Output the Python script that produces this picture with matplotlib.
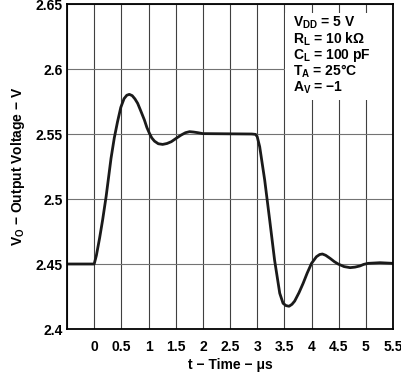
import matplotlib
matplotlib.use('Agg')
import matplotlib.pyplot as plt
from matplotlib.patches import Rectangle

plt.rcParams['font.family'] = ['Liberation Sans', 'DejaVu Sans']
plt.rcParams['font.weight'] = 'bold'
plt.rcParams['mathtext.fontset'] = 'custom'
plt.rcParams['mathtext.rm'] = 'Liberation Sans:bold'
plt.rcParams['mathtext.bf'] = 'Liberation Sans:bold'
plt.rcParams['mathtext.it'] = 'Liberation Sans:bold'
plt.rcParams['mathtext.default'] = 'bf'

# waveform (time in us, volts)
time_us = [-0.5, 0.0, 0.04, 0.10, 0.155, 0.22, 0.31, 0.37, 0.43, 0.49,
           0.55, 0.60, 0.647, 0.70, 0.75, 0.80, 0.86, 0.924, 0.97, 1.017,
           1.06, 1.11, 1.18, 1.26, 1.34, 1.42, 1.51, 1.60, 1.68, 1.755,
           1.83, 1.91, 2.0, 2.9, 2.97, 3.0, 3.046, 3.138, 3.23, 3.32,
           3.415, 3.476, 3.53, 3.587, 3.64, 3.69, 3.77, 3.845, 3.92, 4.0,
           4.09, 4.15, 4.20, 4.26, 4.34, 4.42, 4.49, 4.60, 4.71, 4.80,
           4.89, 4.96, 5.04, 5.26, 5.5]
vout = [2.45, 2.45, 2.4565, 2.470, 2.4838, 2.502, 2.5313, 2.547, 2.5595, 2.5705,
        2.5772, 2.5798, 2.5805, 2.5795, 2.577, 2.5736, 2.5675, 2.5608, 2.555, 2.5505,
        2.547, 2.5445, 2.5425, 2.542, 2.5427, 2.5441, 2.5467, 2.5492, 2.551, 2.5518,
        2.5515, 2.551, 2.5503, 2.55, 2.5497, 2.548, 2.5402, 2.5146, 2.4838, 2.453,
        2.4275, 2.4198, 2.418, 2.4175, 2.419, 2.4215, 2.428, 2.4351, 2.443, 2.4505,
        2.4556, 2.4573, 2.4577, 2.4567, 2.4544, 2.4518, 2.45, 2.448, 2.4472, 2.4476,
        2.4485, 2.4497, 2.4505, 2.451, 2.4505]

xticks = [0, 0.5, 1, 1.5, 2, 2.5, 3, 3.5, 4, 4.5, 5, 5.5]
xtick_labels = ['0', '0.5', '1', '1.5', '2', '2.5', '3', '3.5', '4', '4.5', '5', '5.5']
yticks = [2.4, 2.45, 2.5, 2.55, 2.6, 2.65]
ytick_labels = ['2.4', '2.45', '2.5', '2.55', '2.6', '2.65']

conditions = [r'V$_{DD}$ = 5 V',
              r'R$_{L}$ = 10 k$\Omega$',
              r'C$_{L}$ = 100 pF',
              r'T$_{A}$ = 25°C',
              r'A$_{V}$ = −1']

fig = plt.figure(figsize=(4.02, 3.74), dpi=100)
ax = fig.add_axes([0.1667, 0.1203, 0.811, 0.869])

# grid
for xv in [-0.5] + xticks:
    ax.axvline(xv, color='0.25', lw=0.8, zorder=1)
for yv in yticks:
    ax.axhline(yv, color='0.45', lw=0.8, zorder=1)

ax.plot(time_us, vout, color='#1a1a1a', lw=2.0, solid_joinstyle='round',
        solid_capstyle='round', zorder=3)

ax.set_xlim(-0.5, 5.5)
ax.set_ylim(2.4, 2.65)
ax.set_xticks(xticks)
ax.set_xticklabels(xtick_labels)
ax.set_yticks(yticks)
ax.set_yticklabels(ytick_labels)
ax.tick_params(length=0, labelsize=10)
ax.tick_params(axis='x', pad=8)
ax.tick_params(axis='y', pad=3)
for s in ax.spines.values():
    s.set_linewidth(1.3)
    s.set_zorder(5)

# conditions box
ax.add_patch(Rectangle((0.669, 0.705), 0.33, 0.267, transform=ax.transAxes,
                       facecolor='white', edgecolor='none', zorder=4))
for i, line in enumerate(conditions):
    ax.text(0.693, 0.942 - i * 0.05, line, transform=ax.transAxes,
            fontsize=10, fontweight='bold', va='center', ha='left', zorder=6)

ax.set_xlabel('t − Time − μs', fontsize=10, fontweight='bold', labelpad=3)
ax.set_ylabel(r'V$_{O}$ − Output Voltage − V', fontsize=10, fontweight='bold', labelpad=6)

fig.savefig('out.png', dpi=100)
